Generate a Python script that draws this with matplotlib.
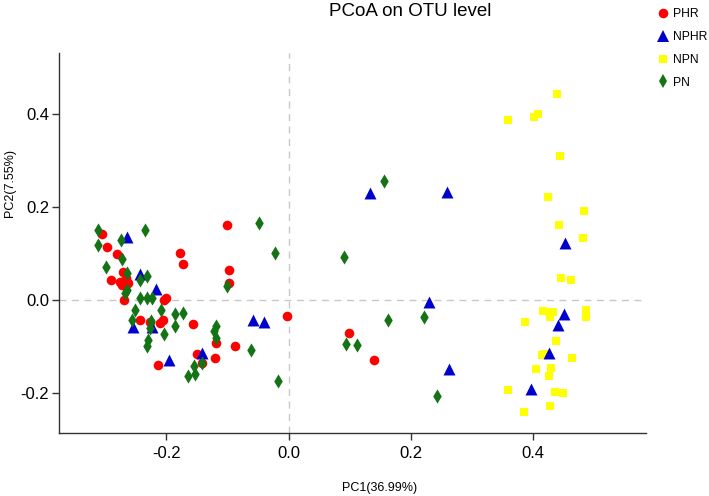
import matplotlib
matplotlib.use("Agg")
import matplotlib.pyplot as plt
from matplotlib.lines import Line2D

plt.rcParams['font.family'] = ['Liberation Sans', 'DejaVu Sans']
plt.rcParams['axes.unicode_minus'] = False

# PCoA coordinates (PC1, PC2)
phr_x = [-0.305, -0.297, -0.280, -0.270, -0.290, -0.275, -0.272, -0.266, -0.268, -0.262,
         -0.243, -0.226, -0.205, -0.210, -0.201, -0.204, -0.178, -0.172, -0.214, -0.156,
         -0.119, -0.120, -0.149, -0.141, -0.100, -0.098, -0.098, -0.087, -0.002, 0.098, 0.140]
phr_y = [0.142, 0.114, 0.098, 0.061, 0.042, 0.039, 0.032, 0.047, 0.000, 0.037,
         -0.044, -0.048, -0.044, -0.049, 0.004, 0.000, 0.100, 0.078, -0.140, -0.051,
         -0.093, -0.124, -0.116, -0.135, 0.162, 0.065, 0.037, -0.099, -0.035, -0.072, -0.129]

nphr_x = [-0.264, -0.243, -0.217, -0.254, -0.223, -0.196, -0.141, -0.058, -0.040,
          0.133, 0.259, 0.229, 0.262, 0.452, 0.450, 0.440, 0.425, 0.396]
nphr_y = [0.136, 0.056, 0.024, -0.059, -0.058, -0.129, -0.113, -0.042, -0.047,
          0.231, 0.233, -0.005, -0.148, 0.123, -0.030, -0.054, -0.115, -0.192]

npn_x = [0.439, 0.359, 0.401, 0.408, 0.444, 0.424, 0.483, 0.442, 0.481, 0.445,
         0.462, 0.416, 0.426, 0.432, 0.427, 0.486, 0.486, 0.386, 0.437, 0.414,
         0.419, 0.463, 0.404, 0.428, 0.426, 0.359, 0.435, 0.449, 0.427, 0.385]
npn_y = [0.442, 0.387, 0.394, 0.399, 0.310, 0.222, 0.192, 0.161, 0.133, 0.048,
         0.043, -0.023, -0.025, -0.025, -0.037, -0.022, -0.036, -0.047, -0.088, -0.118,
         -0.116, -0.124, -0.148, -0.147, -0.163, -0.194, -0.197, -0.199, -0.227, -0.240]

pn_x = [-0.311, -0.312, -0.234, -0.273, -0.272, -0.298, -0.264, -0.243, -0.231, -0.264,
        -0.267, -0.243, -0.232, -0.223, -0.251, -0.256, -0.209, -0.185, -0.173, -0.185,
        -0.224, -0.227, -0.203, -0.230, -0.231, -0.164, -0.153, -0.154, -0.141, -0.118,
        -0.122, -0.118, -0.100, -0.061, -0.049, -0.022, -0.017, 0.156, 0.091, 0.163,
        0.222, 0.094, 0.112, 0.242]
pn_y = [0.151, 0.118, 0.150, 0.128, 0.088, 0.070, 0.058, 0.043, 0.052, 0.022,
        0.014, 0.005, 0.005, 0.004, -0.022, -0.043, -0.022, -0.030, -0.027, -0.057,
        -0.045, -0.061, -0.074, -0.086, -0.100, -0.163, -0.159, -0.142, -0.135, -0.057,
        -0.067, -0.082, 0.030, -0.108, 0.166, 0.100, -0.175, 0.256, 0.093, -0.043,
        -0.036, -0.095, -0.097, -0.206]

groups = ['PHR', 'NPHR', 'NPN', 'PN']
colors = ['#ff0000', '#0000cd', '#ffff00', '#147314']
markers = ['o', '^', 's', 'd']
sizes = [48, 74, 34, 52]

xticks = [-0.2, 0.0, 0.2, 0.4]
yticks = [-0.2, 0.0, 0.2, 0.4]

fig = plt.figure(figsize=(7.09, 4.96), dpi=100)
ax = fig.add_axes([59 / 709, 1 - 433 / 496, (646 - 59) / 709, (433 - 53) / 496])

ax.axvline(0, color='#c8c8c8', lw=1, ls=(0, (5, 4)), zorder=1)
ax.axhline(0, color='#c8c8c8', lw=1, ls=(0, (5, 4)), zorder=1)

data = [(npn_x, npn_y, 2), (phr_x, phr_y, 0), (nphr_x, nphr_y, 1), (pn_x, pn_y, 3)]
for xs, ys, i in data:
    ax.scatter(xs, ys, s=sizes[i], c=colors[i], marker=markers[i],
               linewidths=0, zorder=3)

ax.set_xlim(-0.375, 0.584)
ax.set_ylim(-0.286, 0.531)
ax.set_xticks(xticks)
ax.set_xticklabels([f'{t:.1f}' for t in xticks])
ax.set_yticks(yticks)
ax.set_yticklabels([f'{t:.1f}' for t in yticks])
ax.tick_params(labelsize=12, length=5, width=1, color='#333333', direction='out')
ax.tick_params(axis='x', pad=4)
ax.tick_params(axis='y', pad=2)
for side in ['top', 'right']:
    ax.spines[side].set_visible(False)
for side in ['left', 'bottom']:
    ax.spines[side].set_linewidth(1)
    ax.spines[side].set_color('#333333')

fig.text(410 / 709, 1 - 11 / 496, 'PCoA on OTU level', ha='center', va='center', fontsize=13.5)
fig.text(380 / 709, 1 - 488 / 496, 'PC1(36.99%)', ha='center', va='center', fontsize=9)
fig.text(10 / 709, 1 - 183 / 496, 'PC2(7.55%)', ha='center', va='center', fontsize=9, rotation=90)

handles = [Line2D([], [], ls='none', marker=markers[i], color=colors[i],
                  markersize=(sizes[i] ** 0.5), markeredgewidth=0) for i in range(4)]
fig.legend(handles, groups, loc='upper left', bbox_to_anchor=(657 / 709, 1 - 8 / 496),
           frameon=False, fontsize=8.7, handlelength=1.0, handletextpad=0.3,
           labelspacing=0.9, borderpad=0, borderaxespad=0)

fig.savefig('out.png', dpi=100)
